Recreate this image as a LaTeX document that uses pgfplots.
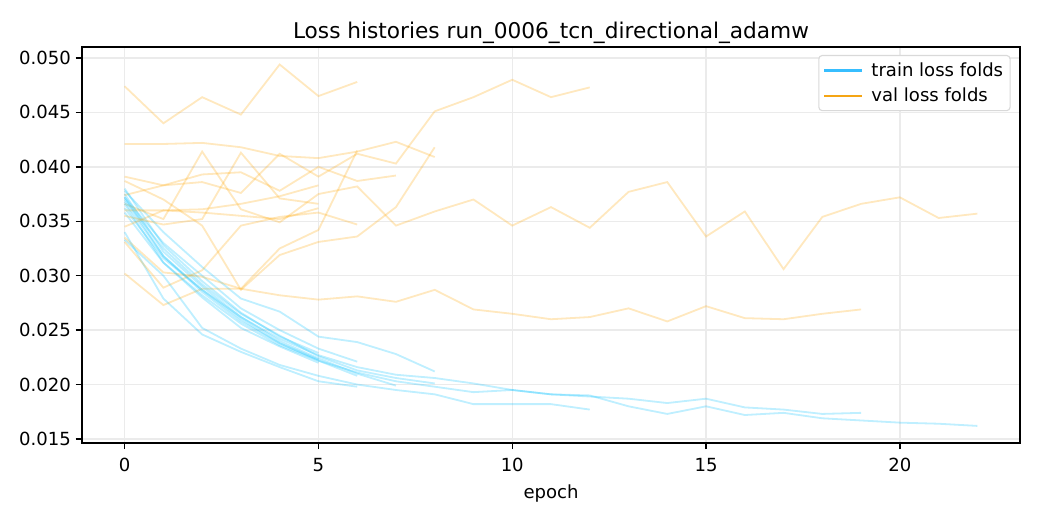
\documentclass[border=0pt]{standalone}
\usepackage{fontspec}
\setmainfont{DejaVu Sans}
\usepackage{pgfplots}
\pgfplotsset{compat=1.18}
\definecolor{trainc}{RGB}{0,191,255}
\definecolor{valc}{RGB}{255,165,0}
\definecolor{trainleg}{RGB}{55,190,255}
\definecolor{valleg}{RGB}{245,165,20}
\begin{document}
\begin{tikzpicture}
\path[use as bounding box] (0,0) rectangle (748.8pt,374.4pt);
\begin{axis}[
  at={(59.04pt,55.44pt)}, anchor=south west,
  scale only axis, width=675.36pt, height=285.12pt,
  xmin=-1.1, xmax=23.1, ymin=0.01463, ymax=0.05101,
  xtick={0,5,10,15,20},
  ytick={0.015,0.020,0.025,0.030,0.035,0.040,0.045,0.050},
  scaled y ticks=false,
  yticklabel style={/pgf/number format/.cd, fixed, fixed zerofill, precision=3},
  /pgf/number format/assume math mode=true,
  ticklabel style={font=\fontsize{13}{15}\selectfont},
  xticklabel style={yshift=-3pt},
  tick align=outside, tick pos=left,
  major tick length=4.5pt,
  every tick/.style={black, line width=1pt},
  axis line style={line width=1pt},
  grid=major, major grid style={gray!16, line width=1pt},
  xlabel={epoch}, xlabel style={font=\fontsize{13}{15}\selectfont, yshift=-2pt},
  title={Loss histories run\_0006\_tcn\_directional\_adamw},
  title style={font=\fontsize{15.6}{18}\selectfont, yshift=-7pt},
  legend cell align=left,
  legend image code/.code={\draw[#1] (0pt,0pt) -- (27pt,0pt);},
  legend style={at={(0.990,0.980)}, anchor=north east, draw=gray!30, rounded corners=2.5pt,
    line width=0.8pt,
    font=\fontsize{13}{15}\selectfont, inner xsep=3pt, inner ysep=3pt, row sep=3pt,
    /tikz/every odd column/.append style={column sep=4pt}},
  every axis plot/.append style={line width=1.3pt},
]
\addlegendimage{trainleg, line width=1.9pt}
\addlegendentry{train loss folds}
\addlegendimage{valleg, line width=1.9pt}
\addlegendentry{val loss folds}

% fold 1
\addplot[trainc, opacity=0.25, forget plot] coordinates {(0,0.0372)(1,0.0330)(2,0.0300)(3,0.0270)(4,0.0250)(5,0.0233)(6,0.0221)};
\addplot[valc, opacity=0.25, forget plot] coordinates {(0,0.0474)(1,0.0440)(2,0.0464)(3,0.0448)(4,0.0494)(5,0.0465)(6,0.0478)};
% fold 2
\addplot[trainc, opacity=0.25, forget plot] coordinates {(0,0.0378)(1,0.0340)(2,0.0308)(3,0.0279)(4,0.0267)(5,0.0244)(6,0.0239)(7,0.0228)(8,0.0212)};
\addplot[valc, opacity=0.25, forget plot] coordinates {(0,0.0421)(1,0.0421)(2,0.0422)(3,0.0418)(4,0.0410)(5,0.0408)(6,0.0414)(7,0.0423)(8,0.0409)};
% fold 3
\addplot[trainc, opacity=0.25, forget plot] coordinates {(0,0.0333)(1,0.0300)(2,0.0252)(3,0.0233)(4,0.0218)(5,0.0208)(6,0.0200)(7,0.0195)(8,0.0191)(9,0.0182)(10,0.0182)(11,0.0182)(12,0.0177)};
\addplot[valc, opacity=0.25, forget plot] coordinates {(0,0.0391)(1,0.0383)(2,0.0386)(3,0.0376)(4,0.0412)(5,0.0391)(6,0.0412)(7,0.0403)(8,0.0451)(9,0.0464)(10,0.0480)(11,0.0464)(12,0.0473)};
% fold 4
\addplot[trainc, opacity=0.25, forget plot] coordinates {(0,0.0358)(1,0.0312)(2,0.0282)(3,0.0256)(4,0.0236)(5,0.0222)(6,0.0211)(7,0.0203)(8,0.0198)(9,0.0193)(10,0.0195)(11,0.0191)(12,0.0190)(13,0.0180)(14,0.0173)(15,0.0180)(16,0.0172)(17,0.0174)(18,0.0169)(19,0.0167)(20,0.0165)(21,0.0164)(22,0.0162)};
\addplot[valc, opacity=0.25, forget plot] coordinates {(0,0.0366)(1,0.0352)(2,0.0414)(3,0.0361)(4,0.0349)(5,0.0375)(6,0.0382)(7,0.0346)(8,0.0359)(9,0.0370)(10,0.0346)(11,0.0363)(12,0.0344)(13,0.0377)(14,0.0386)(15,0.0336)(16,0.0359)(17,0.0306)(18,0.0354)(19,0.0366)(20,0.0372)(21,0.0353)(22,0.0357)};
% fold 5
\addplot[trainc, opacity=0.25, forget plot] coordinates {(0,0.0362)(1,0.0316)(2,0.0287)(3,0.0262)(4,0.0242)(5,0.0227)(6,0.0216)(7,0.0209)(8,0.0206)(9,0.0201)(10,0.0195)(11,0.0191)(12,0.0189)(13,0.0187)(14,0.0183)(15,0.0187)(16,0.0179)(17,0.0177)(18,0.0173)(19,0.0174)};
\addplot[valc, opacity=0.25, forget plot] coordinates {(0,0.0302)(1,0.0273)(2,0.0288)(3,0.0288)(4,0.0282)(5,0.0278)(6,0.0281)(7,0.0276)(8,0.0287)(9,0.0269)(10,0.0265)(11,0.0260)(12,0.0262)(13,0.0270)(14,0.0258)(15,0.0272)(16,0.0261)(17,0.0260)(18,0.0265)(19,0.0269)};
% fold 6
\addplot[trainc, opacity=0.25, forget plot] coordinates {(0,0.0375)(1,0.0322)(2,0.0290)(3,0.0262)(4,0.0240)(5,0.0224)(6,0.0210)(7,0.0199)};
\addplot[valc, opacity=0.25, forget plot] coordinates {(0,0.0374)(1,0.0383)(2,0.0393)(3,0.0395)(4,0.0378)(5,0.0400)(6,0.0387)(7,0.0392)};
% fold 7
\addplot[trainc, opacity=0.25, forget plot] coordinates {(0,0.0370)(1,0.0325)(2,0.0292)(3,0.0265)(4,0.0245)(5,0.0226)(6,0.0213)(7,0.0206)(8,0.0201)};
\addplot[valc, opacity=0.25, forget plot] coordinates {(0,0.0387)(1,0.0370)(2,0.0346)(3,0.0287)(4,0.0319)(5,0.0331)(6,0.0336)(7,0.0363)(8,0.0418)};
% fold 8
\addplot[trainc, opacity=0.25, forget plot] coordinates {(0,0.0368)(1,0.0318)(2,0.0287)(3,0.0260)(4,0.0238)(5,0.0222)(6,0.0208)};
\addplot[valc, opacity=0.25, forget plot] coordinates {(0,0.0335)(1,0.0303)(2,0.0299)(3,0.0288)(4,0.0325)(5,0.0342)(6,0.0415)};
% fold 9
\addplot[trainc, opacity=0.25, forget plot] coordinates {(0,0.0340)(1,0.0279)(2,0.0246)(3,0.0230)(4,0.0216)(5,0.0203)(6,0.0198)};
\addplot[valc, opacity=0.25, forget plot] coordinates {(0,0.0331)(1,0.0289)(2,0.0305)(3,0.0346)(4,0.0354)(5,0.0358)(6,0.0347)};
% fold 10
\addplot[trainc, opacity=0.25, forget plot] coordinates {(0,0.0380)(1,0.0328)(2,0.0295)(3,0.0266)(4,0.0244)(5,0.0229)};
\addplot[valc, opacity=0.25, forget plot] coordinates {(0,0.0360)(1,0.0360)(2,0.0361)(3,0.0366)(4,0.0373)(5,0.0383)};
% fold 11
\addplot[trainc, opacity=0.25, forget plot] coordinates {(0,0.0372)(1,0.0318)(2,0.0285)(3,0.0258)(4,0.0238)(5,0.0223)};
\addplot[valc, opacity=0.25, forget plot] coordinates {(0,0.0355)(1,0.0347)(2,0.0352)(3,0.0413)(4,0.0371)(5,0.0366)};
% fold 12
\addplot[trainc, opacity=0.25, forget plot] coordinates {(0,0.0366)(1,0.0312)(2,0.0280)(3,0.0252)(4,0.0235)(5,0.0220)};
\addplot[valc, opacity=0.25, forget plot] coordinates {(0,0.0345)(1,0.0360)(2,0.0358)(3,0.0355)(4,0.0352)(5,0.0362)};
\end{axis}
\end{tikzpicture}
\end{document}
